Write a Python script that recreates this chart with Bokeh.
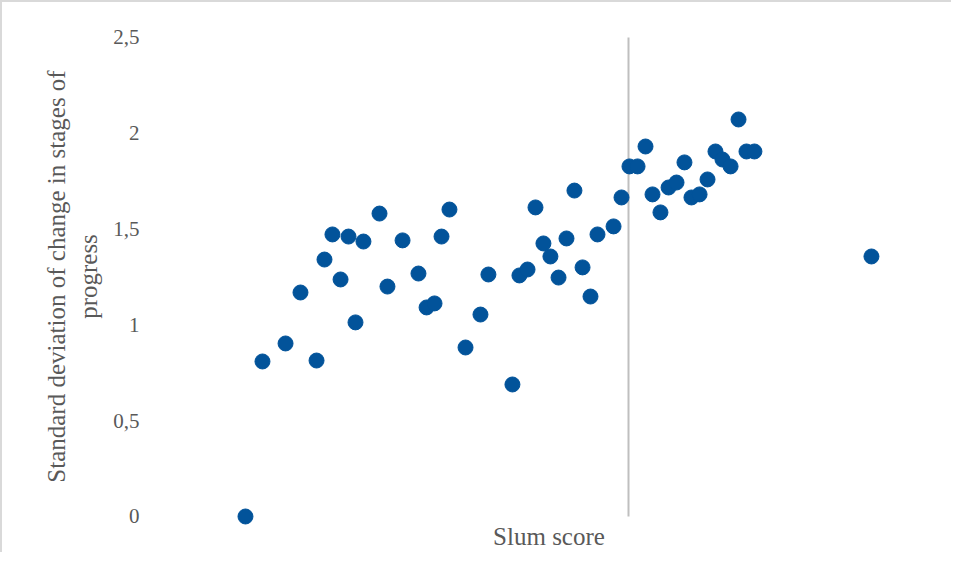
from bokeh.plotting import figure
from bokeh.models import FixedTicker, Range1d
from bokeh.embed import file_html
from bokeh.resources import INLINE

# Slum score (x) and standard deviation of change in stages of progress (y)
slum_score = [-2.409, -2.302, -2.157, -2.063, -1.962, -1.912, -1.862, -1.811, -1.761, -1.717,
              -1.667, -1.566, -1.516, -1.421, -1.321, -1.270, -1.220, -1.176, -1.126, -1.025,
              -0.931, -0.881, -0.730, -0.686, -0.635, -0.585, -0.535, -0.491, -0.440, -0.390,
              -0.340, -0.289, -0.239, -0.195, -0.094, -0.044, 0.006, 0.057, 0.107, 0.151,
              0.201, 0.252, 0.302, 0.352, 0.396, 0.447, 0.497, 0.547, 0.591, 0.642,
              0.692, 0.742, 0.792, 1.528]
sd_change = [0.000, 0.809, 0.903, 1.169, 0.814, 1.341, 1.472, 1.237, 1.461, 1.013,
             1.435, 1.581, 1.200, 1.441, 1.268, 1.091, 1.112, 1.461, 1.602, 0.882,
             1.054, 1.263, 0.689, 1.258, 1.289, 1.613, 1.425, 1.357, 1.247, 1.451,
             1.701, 1.300, 1.148, 1.472, 1.514, 1.665, 1.827, 1.827, 1.931, 1.681,
             1.587, 1.717, 1.743, 1.848, 1.665, 1.681, 1.759, 1.905, 1.863, 1.827,
             2.072, 1.905, 1.905, 1.357]
y_ticks = [0, 0.5, 1, 1.5, 2, 2.5]
y_tick_labels = ["0", "0,5", "1", "1,5", "2", "2,5"]

FONT = "Liberation Serif"
GREY = "#595959"

p = figure(frame_width=795, frame_height=498, output_backend="svg", toolbar_location=None,
           x_range=Range1d(-3, 2), y_range=Range1d(-0.047, 2.552),
           min_border_left=149, min_border_right=5, min_border_top=25, min_border_bottom=10)
p.styles = {"border-left": "2px solid #D9D9D9", "border-top": "2px solid #D9D9D9"}
p.outline_line_color = None
p.grid.grid_line_color = None
p.background_fill_color = "white"
p.border_fill_color = "white"

# vertical axis line crossing at slum score 0
p.segment(x0=[0], y0=[y_ticks[0]], x1=[0], y1=[y_ticks[-1]], line_color="#BFBFBF", line_width=2)

p.scatter(slum_score, sd_change, size=15, fill_color="#02539A", line_color="#02539A")

ya = p.yaxis[0]
ya.ticker = FixedTicker(ticks=y_ticks)
ya.major_label_overrides = {t: l for t, l in zip(y_ticks, y_tick_labels)}
ya.axis_line_color = None
ya.major_tick_line_color = None
ya.minor_tick_line_color = None
ya.major_label_text_font = FONT
ya.major_label_text_font_size = "21px"
ya.major_label_text_color = GREY
ya.major_label_standoff = 6
ya.axis_label = "Standard deviation of change in stages of\nprogress"
ya.axis_label_text_font = FONT
ya.axis_label_text_font_size = "25px"
ya.axis_label_text_font_style = "normal"
ya.axis_label_text_color = GREY
ya.axis_label_standoff = 8

xa = p.xaxis[0]
xa.ticker = FixedTicker(ticks=[])
xa.axis_line_color = None
xa.major_tick_line_color = None
xa.minor_tick_line_color = None
xa.major_tick_out = 0
xa.major_label_standoff = 0
xa.axis_label = "Slum score"
xa.axis_label_text_font = FONT
xa.axis_label_text_font_size = "25px"
xa.axis_label_text_font_style = "normal"
xa.axis_label_text_color = GREY
xa.axis_label_standoff = -3

open("out.html", "w").write(file_html(p, INLINE))
